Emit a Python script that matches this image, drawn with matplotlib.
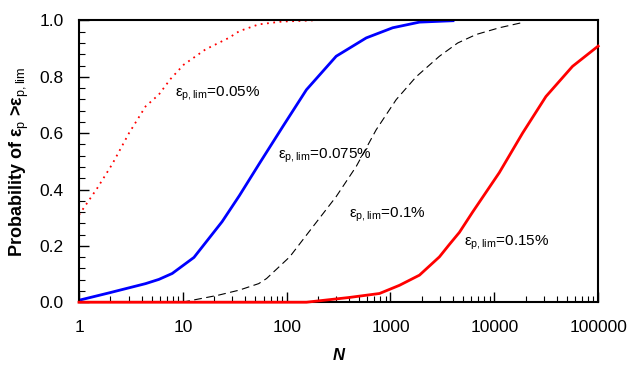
import matplotlib
matplotlib.use('Agg')
import matplotlib.pyplot as plt
from matplotlib.ticker import MultipleLocator, LogLocator, NullFormatter, FixedFormatter, FixedLocator, FormatStrFormatter

plt.rcParams['font.family'] = ['Liberation Sans', 'DejaVu Sans']
plt.rcParams['mathtext.fontset'] = 'custom'
plt.rcParams['mathtext.rm'] = 'Liberation Sans'
plt.rcParams['mathtext.it'] = 'Liberation Sans'
plt.rcParams['mathtext.bf'] = 'Liberation Sans:bold'

# eps_p,lim = 0.05 %
n_005 = [1, 1.5, 2.09, 3.03, 4.38, 5.88, 7.6, 10.2, 16.5, 27.7, 35, 53.8, 90, 178]
p_005 = [0.31, 0.405, 0.49, 0.60, 0.695, 0.737, 0.792, 0.843, 0.897, 0.938, 0.962, 0.986, 0.996, 1.0]

# eps_p,lim = 0.075 %
n_0075 = [1, 1.94, 4.38, 5.88, 7.9, 12.8, 23.9, 35, 55, 92, 155, 300, 584, 1050, 1900, 4000]
p_0075 = [0.007, 0.033, 0.066, 0.081, 0.102, 0.159, 0.286, 0.378, 0.494, 0.624, 0.754, 0.873, 0.938, 0.974, 0.994, 0.999]

# eps_p,lim = 0.1 %
n_01 = [9.86, 22, 35, 53.8, 64, 107, 179, 300, 468, 728, 1135, 1766, 2960, 4440, 6670, 11170, 19400]
p_01 = [0.0, 0.025, 0.043, 0.066, 0.084, 0.161, 0.268, 0.375, 0.482, 0.612, 0.719, 0.80, 0.873, 0.92, 0.95, 0.974, 0.994]

# eps_p,lim = 0.15 %
n_015 = [1, 10, 155, 404, 784, 1220, 1900, 2960, 3690, 4610, 6180, 11170, 18700, 31400, 56600, 100000]
p_015 = [0.0, 0.0, 0.0, 0.017, 0.031, 0.06, 0.096, 0.161, 0.205, 0.248, 0.32, 0.46, 0.60, 0.73, 0.837, 0.909]

x_ticks = [1, 10, 100, 1000, 10000, 100000]
x_tick_labels = ['1', '10', '100', '1000', '10000', '100000']

fig, ax = plt.subplots(figsize=(6.27, 3.65), dpi=100)
fig.subplots_adjust(left=0.126, right=0.954, top=0.944, bottom=0.172)

ax.plot(n_005, p_005, color='red', lw=1.3, ls=(0, (1, 2.5)))
ax.plot(n_0075, p_0075, color='blue', lw=2.0)
ax.plot(n_01, p_01, color='black', lw=0.8, ls=(0, (7, 4)))
ax.plot(n_015, p_015, color='red', lw=2.0, clip_on=False, zorder=10)

ax.set_xscale('log')
ax.set_xlim(1, 100000)
ax.set_ylim(0, 1.0)
ax.xaxis.set_major_locator(FixedLocator(x_ticks))
ax.xaxis.set_major_formatter(FixedFormatter(x_tick_labels))
ax.xaxis.set_minor_locator(LogLocator(base=10, subs=range(2, 10)))
ax.xaxis.set_minor_formatter(NullFormatter())
ax.yaxis.set_major_locator(MultipleLocator(0.2))
ax.yaxis.set_minor_locator(MultipleLocator(0.04))
ax.yaxis.set_major_formatter(FormatStrFormatter('%.1f'))

ax.tick_params(which='both', direction='in', top=False, right=False, labelsize=12.5)
ax.tick_params(which='major', length=7, width=1)
ax.tick_params(which='minor', length=4, width=0.8)
ax.tick_params(axis='x', which='major', pad=13)
ax.tick_params(axis='y', which='major', pad=11)
for s in ax.spines.values():
    s.set_linewidth(1.5)

ax.set_xlabel('N', fontsize=12, fontweight='bold', style='italic', labelpad=9)
ax.set_ylabel(r'Probability of ε$_\mathrm{p}$ >ε$_\mathrm{p,lim}$',
              fontsize=13, fontweight='bold', labelpad=6)

lab_kw = dict(fontsize=11, va='center', ha='left')
ax.text(8.4, 0.74, r'ε$_\mathrm{p,lim}$=0.05%', **lab_kw)
ax.text(83, 0.52, r'ε$_\mathrm{p,lim}$=0.075%', **lab_kw)
ax.text(400, 0.31, r'ε$_\mathrm{p,lim}$=0.1%', **lab_kw)
ax.text(5100, 0.21, r'ε$_\mathrm{p,lim}$=0.15%', **lab_kw)

plt.savefig('out.png')
